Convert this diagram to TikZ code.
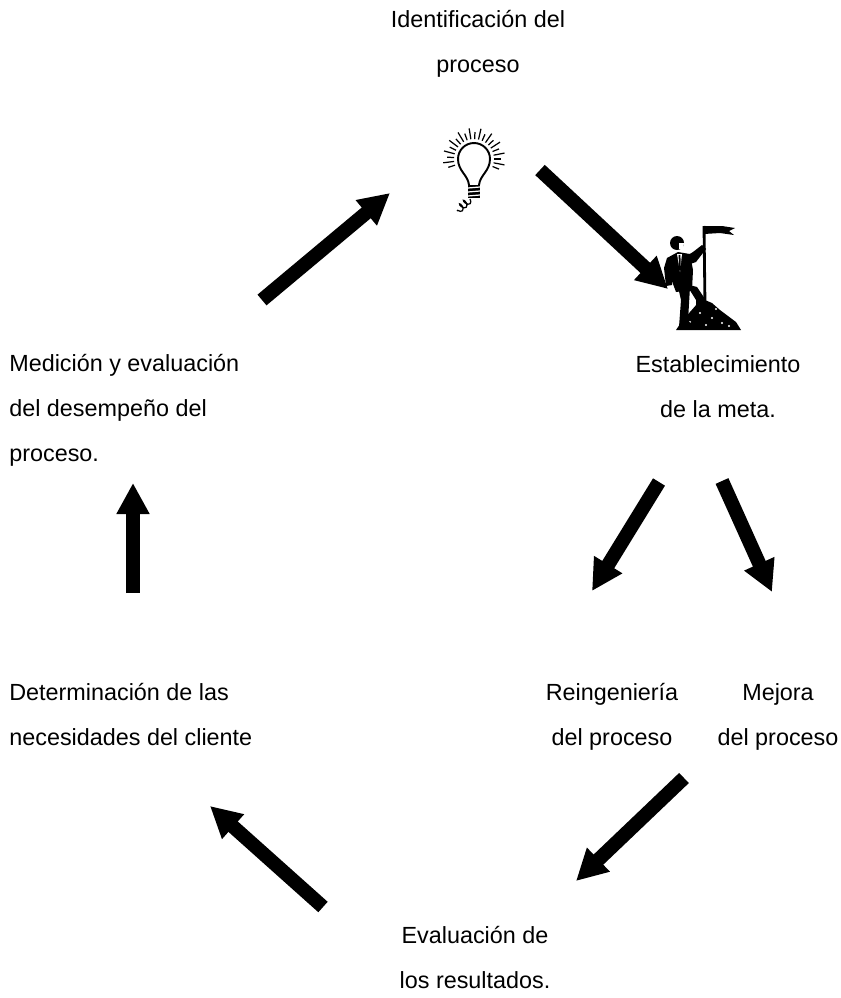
\documentclass[tikz,border=0pt]{standalone}
\usepackage{fontspec}
\setmainfont{Liberation Sans}
\usetikzlibrary{arrows.meta, decorations.pathmorphing}

\begin{document}
\begin{tikzpicture}[
  x=0.02cm, y=-0.02cm,
  stageLabel/.style={inner sep=0pt, font=\fontsize{13.3pt}{25.4pt}\selectfont},
  leftLabel/.style={stageLabel, align=left, anchor=base west},
  midLabel/.style={stageLabel, align=center, anchor=base},
  bigArrow/.style={line width=0.28cm, -{Triangle[width=0.62cm, length=0.62cm]}},
  bulbLine/.style={line width=1.1pt, line cap=round}
]
\useasboundingbox (0,0) rectangle (840,998);

% stage texts (placed by the baseline of their last line)
\node[midLabel] (ident) at (478,72) {Identificación del\\proceso};
\node[midLabel] (meta) at (718,417) {Establecimiento\\de la meta.};
\node[leftLabel] (medic) at (9,461) {Medición y evaluación\\del desempeño del\\proceso.};
\node[leftLabel] (clien) at (9,745) {Determinación de las\\necesidades del cliente};
\node[midLabel] (reing) at (612,745) {Reingeniería\\del proceso};
\node[midLabel] (mejora) at (778,745) {Mejora\\del proceso};
\node[midLabel] (evalu) at (475,988) {Evaluación de\\los resultados.};

% light bulb
\begin{scope}[shift={(474,159)}]
  \draw[bulbLine] (-5,26) .. controls (-6,16) and (-16,12) .. (-16,0)
    arc[start angle=180, end angle=360, radius=16]
    .. controls (16,12) and (6,16) .. (5,26);
  \fill (-6,26) rectangle (6,39);
  \foreach \t in {29,33,37}
    \draw[white, line width=0.7pt] (-6,\t) -- (6,\t-1);
  \draw[line width=0.7pt, decorate, decoration={coil, segment length=3pt, amplitude=2pt}] (-4,40) -- (-17,52);
  \foreach \a [count=\i] in {162,173,...,382} {
    \pgfmathsetmacro\r{mod(\i,2)==0 ? 31 : 27}
    \draw[line width=0.7pt] (\a:20) -- (\a:\r);
  }
\end{scope}

% climber with flag
\fill (676,330) -- (684,318) -- (690,312) -- (697,304) -- (705,300) -- (712,303)
  -- (720,310) -- (728,316) -- (736,322) -- (741,330) -- cycle;
\foreach \p in {(700,313),(712,318),(722,323),(706,325),(690,322),(716,309),(729,326)}
  \fill[white] \p circle (1.2);
\fill (678,287) -- (690,287) -- (688,321) -- (695,326) -- (679,327) -- (681,300) -- cycle;
\fill (686,284) -- (697,287) -- (705,299) -- (703,310) -- (696,309) -- (696,300) -- cycle;
\fill (667,258) -- (678,252) -- (690,254) -- (693,270) -- (692,290) -- (676,292) -- (670,276) -- cycle;
\fill[white] (677,254) -- (682,254) -- (680,272) -- cycle;
\draw[line width=1pt] (679.5,255) -- (680,270);
\fill (667,258) -- (672,262) -- (672,285) -- (666,286) -- (664,268) -- cycle;
\fill (688,255) -- (693,252) -- (702,245) -- (706,249) -- (696,262) -- (690,264) -- cycle;
\fill (677,243) circle (7);
\fill[white] (679,243) -- (684,243) -- (683,249) -- (679,249) -- cycle;
\draw[line width=1.6pt] (704,226) -- (705,305);
\fill (704,226) -- (722,226) -- (735,228) -- (729,231) -- (734,235) -- (720,233) -- (704,234) -- cycle;

% arrow ends
\coordinate (medicOut) at (262,300);
\coordinate (identIn) at (390,193);
\coordinate (identOut) at (540,170);
\coordinate (metaIn) at (668,289);
\coordinate (metaOutA) at (659,482);
\coordinate (reingIn) at (592,591);
\coordinate (metaOutB) at (722,481);
\coordinate (mejoraIn) at (772,592);
\coordinate (reingOut) at (684,778);
\coordinate (evaluIn) at (576,881);
\coordinate (evaluOut) at (323,907);
\coordinate (clienIn) at (210,806);
\coordinate (clienOut) at (133,593);
\coordinate (medicIn) at (133,483);

\draw[bigArrow] (medicOut) -- (identIn);
\draw[bigArrow] (identOut) -- (metaIn);
\draw[bigArrow] (metaOutA) -- (reingIn);
\draw[bigArrow] (metaOutB) -- (mejoraIn);
\draw[bigArrow] (reingOut) -- (evaluIn);
\draw[bigArrow] (evaluOut) -- (clienIn);
\draw[bigArrow] (clienOut) -- (medicIn);
\end{tikzpicture}
\end{document}
